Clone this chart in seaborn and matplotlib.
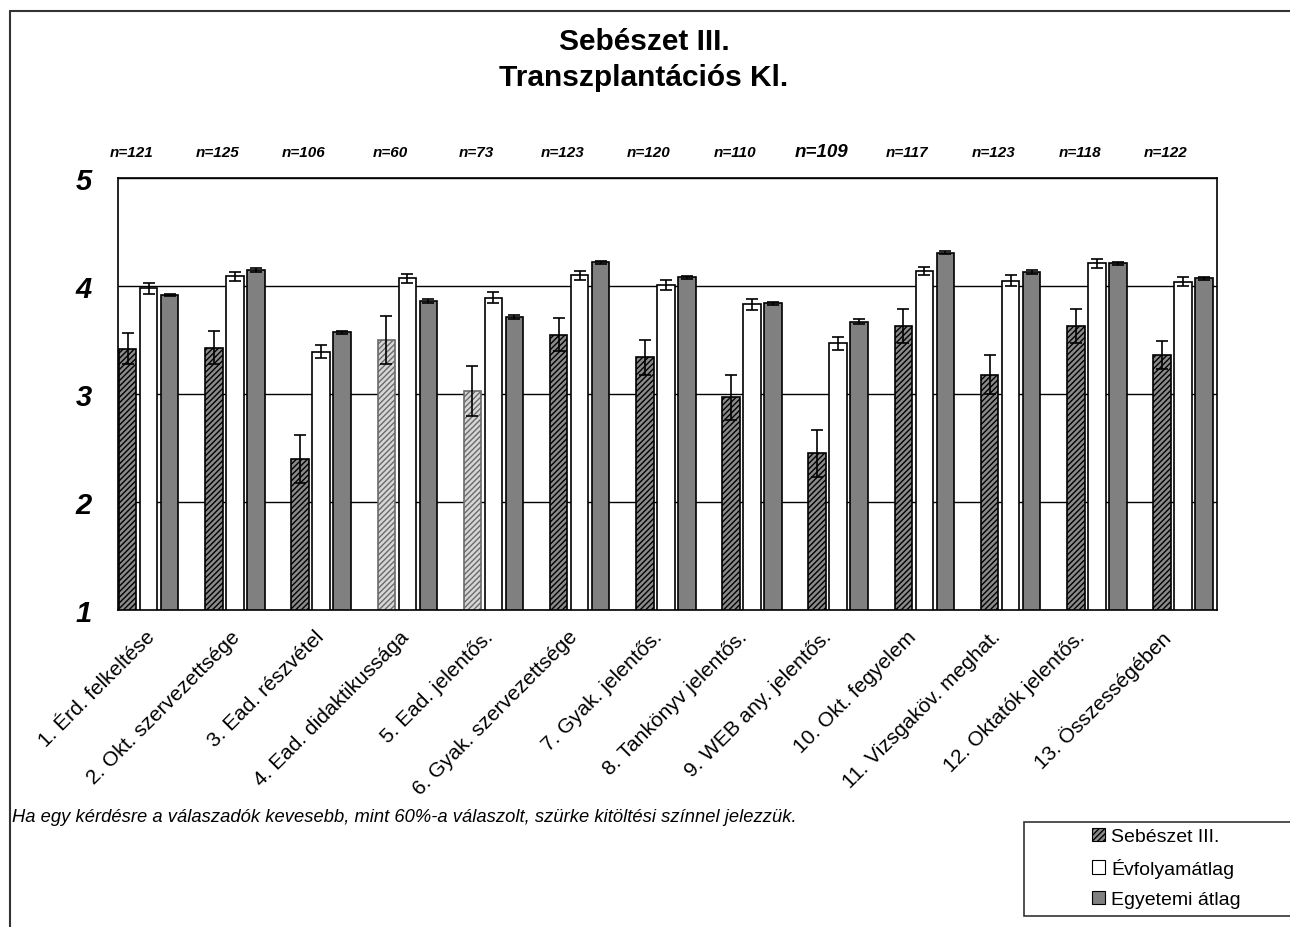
import numpy as np
import pandas as pd
import matplotlib
matplotlib.use("Agg")
import matplotlib.pyplot as plt
from matplotlib.patches import Patch, Rectangle
from matplotlib.lines import Line2D
from matplotlib.transforms import ScaledTranslation
import seaborn as sns

# kérdések (x tengely)
kerdesek = [
    "1. Érd. felkeltése", "2. Okt. szervezettsége", "3. Ead. részvétel",
    "4. Ead. didaktikussága", "5. Ead. jelentős.", "6. Gyak. szervezettsége",
    "7. Gyak. jelentős.", "8. Tankönyv jelentős.", "9. WEB any. jelentős.",
    "10. Okt. fegyelem", "11. Vizsgaköv. meghat.", "12. Oktatók jelentős.",
    "13. Összességében",
]
n_cimkek = ["n=121", "n=125", "n=106", "n=60", "n=73", "n=123", "n=120",
            "n=110", "n=109", "n=117", "n=123", "n=118", "n=122"]

sebeszet = [3.42, 3.43, 2.40, 3.50, 3.03, 3.55, 3.34, 2.97, 2.45, 3.63, 3.18, 3.63, 3.36]
sebeszet_hiba = [0.145, 0.15, 0.22, 0.22, 0.23, 0.155, 0.16, 0.21, 0.215, 0.16, 0.18, 0.16, 0.13]
evfolyam = [3.98, 4.09, 3.39, 4.07, 3.89, 4.10, 4.01, 3.83, 3.47, 4.14, 4.05, 4.21, 4.04]
evfolyam_hiba = [0.05, 0.04, 0.06, 0.04, 0.05, 0.04, 0.05, 0.05, 0.06, 0.04, 0.05, 0.04, 0.04]
egyetem = [3.92, 4.15, 3.57, 3.86, 3.71, 4.22, 4.08, 3.84, 3.67, 4.31, 4.13, 4.21, 4.07]
egyetem_hiba = [0.01, 0.02, 0.015, 0.02, 0.02, 0.015, 0.015, 0.015, 0.02, 0.01, 0.02, 0.015, 0.01]

# 60% alatti válaszadás -> szürke kitöltés
keves_valasz = [False, False, False, True, True, False, False, False, False,
                False, False, False, False]

sorozatok = ["Sebészet III.", "Évfolyamátlag", "Egyetemi átlag"]

df = pd.DataFrame({
    "kerdes": kerdesek * 3,
    "sorozat": np.repeat(sorozatok, len(kerdesek)),
    "ertek": sebeszet + evfolyam + egyetem,
})

sns.set_style("white")
plt.rcParams["font.family"] = ["Liberation Sans", "DejaVu Sans"]
plt.rcParams["hatch.linewidth"] = 1.0
for k in ["text.color", "axes.labelcolor", "xtick.color", "ytick.color"]:
    plt.rcParams[k] = "black"

fig = plt.figure(figsize=(12.9, 9.28), dpi=100)
ax = fig.add_axes([0.09171, 0.34159, 0.85194, 0.46552])

sns.barplot(data=df, x="kerdes", y="ertek", hue="sorozat", hue_order=sorozatok,
            palette={"Sebészet III.": "#8a8a8a", "Évfolyamátlag": "white",
                     "Egyetemi átlag": "#808080"},
            saturation=1, width=0.731, gap=0.167, edgecolor="black",
            linewidth=1.2, errorbar=None, legend=False, ax=ax)

# mintázat a Sebészet oszlopokon
for bar, keves in zip(ax.containers[0], keves_valasz):
    if keves:
        bar.set_facecolor("#d6d6d6")
        bar.set_edgecolor("#6a6a6a")
    bar.set_hatch("//////")

# hibasávok
hibak = [sebeszet_hiba, evfolyam_hiba, egyetem_hiba]
ertekek = [sebeszet, evfolyam, egyetem]
for cont, val, err in zip(ax.containers, ertekek, hibak):
    xs = [p.get_x() + p.get_width() / 2 for p in cont]
    ax.errorbar(xs, val, yerr=err, fmt="none", ecolor="black",
                elinewidth=1.2, capsize=4.5, capthick=1.2, zorder=5)

xlim = (-0.3527, 12.398)
ax.set_xlim(xlim)
ax.set_ylim(1, 5)
szelek = np.linspace(xlim[0], xlim[1], len(kerdesek) + 1)
kozepek = (szelek[:-1] + szelek[1:]) / 2
ax.set_xticks(kozepek)
ax.set_xticklabels(kerdesek, rotation=45, ha="right", va="top",
                   rotation_mode="anchor", fontsize=15)
ax.set_xticks(szelek, minor=True)
ax.tick_params(axis="x", which="major", length=0, pad=12)
ax.tick_params(axis="x", which="minor", direction="inout", length=10,
               width=1, color="black")
ax.set_yticks([1, 2, 3, 4, 5])
ax.tick_params(axis="y", direction="out", length=6, width=1, color="black",
               pad=13, labelsize=21)
for t in ax.get_yticklabels():
    t.set_fontweight("bold")
    t.set_fontstyle("italic")
ax.set_xlabel("")
ax.set_ylabel("")

# a ferde feliratok kicsit balra tolva, mint az eredetin
eltolas = ScaledTranslation(-0.15, 0, fig.dpi_scale_trans)
for tick in ax.xaxis.get_major_ticks():
    tick.label1.set_transform(tick.label1.get_transform() + eltolas)

ax.yaxis.grid(True, color="black", linewidth=1)
ax.set_axisbelow(True)
for s in ax.spines.values():
    s.set_visible(True)
    s.set_color("black")
    s.set_linewidth(1.2)

# n= feliratok
for i, n in enumerate(n_cimkek):
    meret = 13.5 if n == "n=109" else 11
    ax.text(i - 0.2, 1.061, n, transform=ax.get_xaxis_transform(),
            ha="center", va="center", fontsize=meret, fontweight="bold",
            fontstyle="italic")

fig.text(0.4992, 0.9353, "Sebészet III.\nTranszplantációs Kl.", ha="center",
         va="center", fontsize=21.5, fontweight="bold", linespacing=1.38)

fig.text(12 / 1290, 1 - 818 / 928,
         "Ha egy kérdésre a válaszadók kevesebb, mint 60%-a válaszolt, "
         "szürke kitöltési színnel jelezzük.",
         ha="left", va="center", fontsize=13.2, fontstyle="italic")

# külső keret
fig.add_artist(Line2D([10 / 1290, 10 / 1290], [0, 1 - 12 / 928],
                      transform=fig.transFigure, color="#333333", linewidth=1.5))
fig.add_artist(Line2D([10 / 1290, 1], [1 - 12 / 928, 1 - 12 / 928],
                      transform=fig.transFigure, color="#333333", linewidth=1.5))

# jelmagyarázat
fig.add_artist(Rectangle((1024 / 1290, 1 - 917 / 928), 0.3, 94 / 928,
                         transform=fig.transFigure, facecolor="white",
                         edgecolor="#333333", linewidth=1.2))
kezelok = [
    Patch(facecolor="#8a8a8a", edgecolor="black", hatch="//////", linewidth=0.8),
    Patch(facecolor="white", edgecolor="black", linewidth=0.8),
    Patch(facecolor="#808080", edgecolor="black", linewidth=0.8),
]
fig.legend(kezelok, sorozatok, loc="center left",
           bbox_to_anchor=(1074 / 1290, 1 - 869 / 928), frameon=False,
           fontsize=14, handlelength=0.7, handleheight=0.7, handletextpad=0.3,
           labelspacing=0.65)

fig.savefig("out.png", dpi=100)
